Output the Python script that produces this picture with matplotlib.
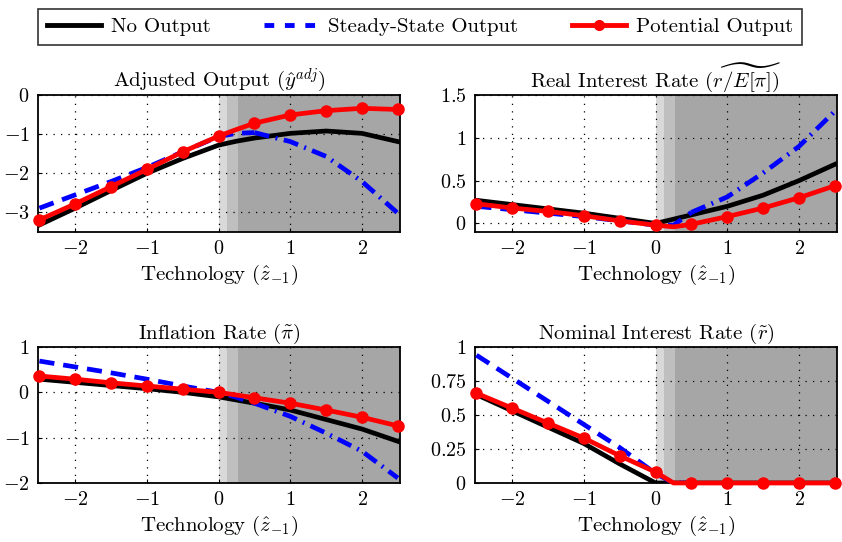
import numpy as np
import matplotlib
matplotlib.use("Agg")
import matplotlib.pyplot as plt

plt.rcParams.update({
    "font.family": "serif",
    "font.serif": ["cmr10", "DejaVu Serif"],
    "mathtext.fontset": "cm",
    "axes.formatter.use_mathtext": True,
    "font.size": 14,
})

# technology grid (0.25 added where the ZLB kink sits)
x = [-2.5, -2.0, -1.5, -1.0, -0.5, 0.0, 0.25, 0.5, 1.0, 1.5, 2.0, 2.5]
mark_idx = [0, 1, 2, 3, 4, 5, 7, 8, 9, 10, 11]

# adjusted output
y_none = [-3.32, -2.89, -2.44, -2.00, -1.62, -1.28, -1.18, -1.10, -0.98, -0.92, -0.98, -1.19]
y_ss = [-2.89, -2.55, -2.21, -1.85, -1.45, -1.06, -0.98, -0.96, -1.19, -1.57, -2.21, -3.02]
y_pot = [-3.19, -2.78, -2.34, -1.90, -1.45, -1.05, -0.88, -0.72, -0.51, -0.40, -0.34, -0.37]

# real interest rate
rr_none = [0.27, 0.22, 0.17, 0.12, 0.06, 0.00, 0.05, 0.10, 0.20, 0.33, 0.50, 0.69]
rr_ss = [0.20, 0.16, 0.12, 0.08, 0.03, -0.02, -0.02, 0.13, 0.31, 0.59, 0.90, 1.31]
rr_pot = [0.23, 0.18, 0.14, 0.09, 0.03, -0.02, -0.04, -0.01, 0.08, 0.18, 0.30, 0.44]

# inflation
pi_none = [0.29, 0.22, 0.15, 0.08, 0.00, -0.10, -0.17, -0.24, -0.39, -0.60, -0.81, -1.08]
pi_ss = [0.69, 0.56, 0.43, 0.29, 0.14, 0.00, -0.11, -0.24, -0.53, -0.90, -1.30, -1.89]
pi_pot = [0.36, 0.29, 0.21, 0.14, 0.07, 0.00, -0.06, -0.12, -0.24, -0.39, -0.55, -0.74]

# nominal interest rate
nr_none = [0.65, 0.53, 0.41, 0.29, 0.14, 0.00, 0.00, 0.00, 0.00, 0.00, 0.00, 0.00]
nr_ss = [0.94, 0.77, 0.60, 0.43, 0.26, 0.07, 0.00, 0.00, 0.00, 0.00, 0.00, 0.00]
nr_pot = [0.66, 0.55, 0.44, 0.33, 0.20, 0.08, 0.00, 0.00, 0.00, 0.00, 0.00, 0.00]

panels = [
    (r"Adjusted Output ($\hat{y}^{adj}$)", y_none, y_ss, y_pot, (-3.5, 0), [-3, -2, -1, 0], ["$-3$", "$-2$", "$-1$", "$0$"]),
    (r"Real Interest Rate ($\widetilde{r/E[\pi]}$)", rr_none, rr_ss, rr_pot, (-0.1, 1.5), [0, 0.5, 1, 1.5], ["$0$", "$0.5$", "$1$", "$1.5$"]),
    (r"Inflation Rate ($\tilde{\pi}$)", pi_none, pi_ss, pi_pot, (-2, 1), [-2, -1, 0, 1], ["$-2$", "$-1$", "$0$", "$1$"]),
    (r"Nominal Interest Rate ($\tilde{r}$)", nr_none, nr_ss, nr_pot, (0, 1), [0, 0.25, 0.5, 0.75, 1], ["$0$", "$0.25$", "$0.5$", "$0.75$", "$1$"]),
]

W, H = 842, 542
boxes = [(38, 95, 400, 232), (475, 95, 837, 232), (38, 347, 400, 483), (475, 347, 837, 483)]

fig = plt.figure(figsize=(W / 100, H / 100), dpi=100)
xa = np.array(x)
split = 7  # blue switches to dash-dot from x=0.5
for (title, yn, ys, yp, ylim, yt, ytl), (l, t, r, b) in zip(panels, boxes):
    ax = fig.add_axes([l / W, 1 - b / H, (r - l) / W, (b - t) / H])
    ax.axvspan(0, 0.11, color="#d9d9d9", lw=0, zorder=0)
    ax.axvspan(0.11, 0.27, color="#bfbfbf", lw=0, zorder=0)
    ax.axvspan(0.27, 3, color="#a6a6a6", lw=0, zorder=0)
    ax.plot(x, yn, color="black", lw=3.4, zorder=3)
    ys = np.array(ys)
    ax.plot(xa[:split + 1], ys[:split + 1], color="blue", lw=3.4, ls=(0, (3.2, 1.9)), zorder=3)
    ax.plot(xa[split:], ys[split:], color="blue", lw=3.4, ls=(0, (3.2, 1.4, 0.4, 1.4)), zorder=3)
    ax.plot(x, yp, color="red", lw=3.4, marker="o", ms=8, markevery=mark_idx,
            zorder=4, clip_on=False)
    ax.set_xlim(-2.52, 2.53)
    ax.set_ylim(*ylim)
    ax.set_xticks([-2, -1, 0, 1, 2])
    ax.set_xticklabels(["$-2$", "$-1$", "$0$", "$1$", "$2$"])
    ax.set_yticks(yt)
    ax.set_yticklabels(ytl)
    ax.grid(True, color="black", ls=(0, (1, 5)), lw=0.9)
    ax.set_axisbelow(False)
    ax.tick_params(direction="in", length=3, labelsize=14.5, pad=6)
    for s in ax.spines.values():
        s.set_linewidth(1.3)
    ax.set_title(title, fontsize=15, pad=6)
    ax.set_xlabel(r"Technology ($\hat{z}_{-1}$)", fontsize=15, labelpad=3)

h1, = plt.plot([], [], color="black", lw=3.5)
h2, = plt.plot([], [], color="blue", lw=3.5, ls=(0, (2, 2.2)))
h3, = plt.plot([], [], color="red", lw=3.5, marker="o", ms=7)
leg = fig.legend([h1, h2, h3], ["No Output", "Steady-State Output", "Potential Output"],
                 loc="center", bbox_to_anchor=(420 / W, 1 - 27 / H), ncol=3,
                 frameon=True, fancybox=False, edgecolor="black", fontsize=15,
                 handlelength=2.6, columnspacing=2.6, handletextpad=0.45,
                 borderpad=0.42)
leg.get_frame().set_linewidth(1.2)

fig.savefig("out.png", dpi=100)
